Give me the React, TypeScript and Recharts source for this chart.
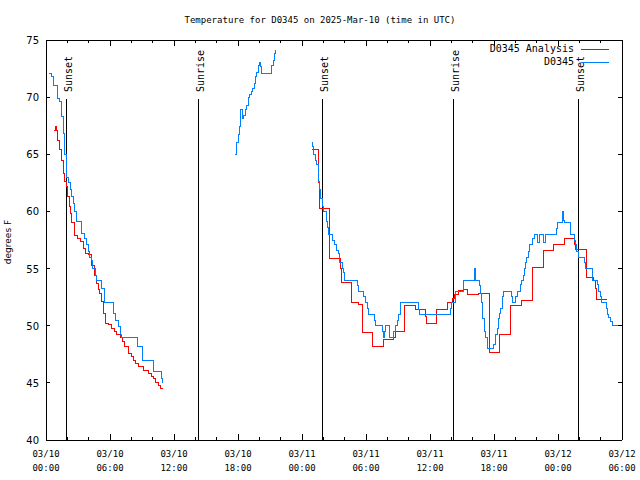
import { LineChart, Line, XAxis, YAxis, ReferenceLine, ReferenceDot, Legend } from "recharts";

const MONO = "'DejaVu Sans Mono', monospace";
const SANS = "'DejaVu Sans', sans-serif";

const CHART_W = 640;
const CHART_H = 480;
const MARGIN = { top: 40, right: 18, bottom: 0, left: 6 };
const X_AXIS_H = 40;
const Y_AXIS_W = 40;
const PLOT_W = CHART_W - MARGIN.left - MARGIN.right - Y_AXIS_W;
const PLOT_H = CHART_H - MARGIN.top - MARGIN.bottom - X_AXIS_H;

// x axis: hours since 03/10 00:00 UTC
const hourTicks = [0, 2, 4, 6, 8, 10, 12, 14, 16, 18, 20, 22, 24, 26, 28, 30, 32, 34, 36, 38, 40, 42, 44, 46, 48, 50, 52, 54];
const majorHours = [0, 6, 12, 18, 24, 30, 36, 42, 48, 54];
const majorDates = ["03/10", "03/10", "03/10", "03/10", "03/11", "03/11", "03/11", "03/11", "03/12", "03/12"];
const majorTimes = ["00:00", "06:00", "12:00", "18:00", "00:00", "06:00", "12:00", "18:00", "00:00", "06:00"];
const tempTicks = [40, 45, 50, 55, 60, 65, 70, 75];

const sunHours = [1.875, 14.28, 25.9, 38.19, 49.9];
const sunLabels = ["Sunset", "Sunrise", "Sunset", "Sunrise", "Sunset"];

// D0345 observations, [hour, degF], one list per unbroken stretch
const stationNight1 = [
  [0.3, 72.1], [0.5, 71.8], [0.7, 71.0], [1.05, 69.9], [1.3, 69.6], [1.45, 68.3], [1.6, 66.8], [1.75, 65.0],
  [1.9, 63.0], [2.1, 62.5], [2.25, 61.9], [2.4, 61.3], [2.55, 60.7], [2.7, 60.0], [2.85, 59.1], [3.35, 58.1],
  [3.65, 57.6], [3.8, 57.1], [4.0, 56.5], [4.1, 56.0], [4.25, 55.7], [4.4, 55.0], [4.6, 54.4], [4.75, 54.0],
  [5.2, 53.3], [5.5, 52.0], [6.35, 51.1], [6.55, 50.5], [6.75, 49.9], [6.95, 49.2], [7.1, 49.0], [8.55, 48.2],
  [9.0, 47.0], [10.1, 46.0], [10.85, 45.4], [10.95, 45.0], [11.0, 45.0],
];
const stationDay1 = [
  [17.7, 65.0], [17.85, 66.0], [18.0, 66.7], [18.1, 67.4], [18.2, 68.15], [18.28, 68.9], [18.4, 68.15],
  [18.55, 68.4], [18.7, 68.9], [18.8, 69.3], [18.95, 70.0], [19.1, 70.2], [19.25, 70.5], [19.4, 70.8],
  [19.5, 71.2], [19.65, 71.8], [19.75, 72.2], [19.9, 72.8], [20.0, 73.05], [20.1, 72.7], [20.2, 72.1],
  [21.15, 72.8], [21.35, 73.25], [21.45, 73.8], [21.5, 74.1], [21.55, 74.1],
];
const stationNight2 = [
  [24.95, 66.0], [25.0, 65.7], [25.06, 65.0], [25.25, 64.5], [25.4, 64.1], [25.5, 63.6], [25.55, 62.6],
  [25.65, 61.9], [25.78, 61.15], [25.9, 60.4], [26.0, 60.0], [26.3, 59.1], [26.37, 58.6], [26.53, 58.0],
  [26.84, 57.5], [27.03, 57.1], [27.25, 56.6], [27.4, 56.3], [27.55, 55.5], [27.75, 55.0], [27.87, 54.7],
  [27.96, 54.0], [29.2, 53.5], [29.3, 53.0], [29.8, 52.55], [29.95, 52.0], [30.15, 51.5], [30.2, 51.0],
  [30.8, 50.5], [30.9, 50.0], [31.5, 49.5], [31.6, 49.0], [31.7, 49.5], [31.84, 50.0], [32.18, 49.0],
  [32.6, 49.5], [32.78, 50.0], [32.93, 50.5], [33.03, 51.0], [33.19, 51.4], [33.28, 52.0], [34.95, 51.4],
  [35.05, 51.0], [37.9, 51.5], [38.0, 52.0], [38.4, 53.0], [39.15, 54.0], [40.2, 55.0], [40.3, 54.0],
  [40.65, 53.5], [40.75, 52.8], [40.85, 52.0], [40.95, 50.6], [41.1, 49.5], [41.2, 49.0], [41.35, 48.0],
  [41.95, 48.4], [42.1, 49.2], [42.3, 49.8], [42.45, 50.6], [42.55, 51.1], [42.65, 51.5], [42.75, 52.0],
  [42.8, 52.55], [42.87, 53.0], [43.6, 52.55], [43.75, 52.0], [44.05, 52.55], [44.19, 53.0], [44.47, 53.6],
  [44.6, 54.0], [44.72, 54.4], [44.84, 55.0], [44.97, 55.5], [45.06, 56.0], [45.2, 56.5], [45.31, 57.1],
  [45.58, 57.6], [45.75, 58.0], [46.05, 57.3], [46.25, 58.0], [46.62, 57.3], [46.8, 58.0], [47.83, 58.5],
  [47.95, 59.0], [48.45, 60.0], [48.53, 59.25], [48.6, 59.0], [49.15, 58.0], [49.52, 57.5], [49.63, 57.1],
  [49.78, 56.5], [49.88, 56.0], [50.5, 55.5], [50.6, 55.0], [51.2, 54.5], [51.28, 54.0], [51.67, 53.6],
  [51.8, 53.0], [51.95, 52.55], [52.05, 52.0], [52.5, 51.5], [52.62, 51.0], [52.75, 50.7], [52.9, 50.4],
  [53.1, 50.0], [54.0, 50.0],
];

// D0345 Analysis
const analysisNight1 = [
  [0.75, 67.1], [0.85, 67.4], [0.95, 67.1], [1.1, 66.25], [1.3, 65.4], [1.45, 64.5], [1.6, 63.3], [1.75, 62.6],
  [1.9, 62.2], [2.05, 61.3], [2.2, 60.4], [2.3, 59.8], [2.41, 59.0], [2.65, 57.9], [2.93, 57.6], [3.19, 57.35],
  [3.5, 56.8], [3.72, 56.3], [4.03, 56.2], [4.28, 55.3], [4.5, 54.4], [4.75, 53.7], [4.95, 53.2], [5.06, 52.8],
  [5.22, 52.1], [5.37, 51.1], [5.6, 50.2], [5.84, 50.1], [6.16, 49.8], [6.4, 49.5], [6.63, 49.2], [6.94, 49.0],
  [7.15, 48.6], [7.4, 48.2], [7.72, 47.6], [8.0, 47.3], [8.18, 47.0], [8.4, 46.7], [8.65, 46.4], [9.12, 46.1],
  [9.59, 45.8], [9.85, 45.6], [10.06, 45.4], [10.3, 45.0], [10.5, 44.8], [10.69, 44.55], [10.97, 44.55],
];
const analysisNight2 = [
  [24.95, 65.4], [25.55, 62.5], [25.65, 60.3], [26.6, 55.9], [27.47, 56.1], [27.55, 55.9], [27.63, 55.0],
  [27.72, 53.8], [28.6, 52.0], [29.25, 51.9], [29.65, 49.4], [30.65, 48.2], [31.6, 48.8], [32.6, 49.0],
  [32.75, 49.5], [33.63, 51.8], [34.63, 51.4], [35.62, 50.8], [35.68, 50.2], [36.62, 51.4], [37.6, 52.0],
  [38.15, 52.4], [38.25, 52.75], [38.66, 53.05], [39.1, 53.15], [39.53, 52.75], [40.55, 52.8], [41.6, 47.7],
  [42.5, 49.25], [43.5, 51.8], [44.6, 52.25], [45.58, 55.1], [46.62, 56.55], [47.6, 57.1], [48.63, 57.6],
  [49.55, 57.1], [49.65, 56.7], [50.65, 54.2], [51.3, 54.0], [51.5, 53.3], [51.6, 52.3], [52.56, 52.3],
];

// join stretches, with a null point between them so the line breaks
function joinSegments(segments: number[][][]) {
  const rows: { h: number; v: number | null }[] = [];
  segments.forEach((seg, i) => {
    if (i > 0) {
      const prev = segments[i - 1];
      rows.push({ h: (prev[prev.length - 1][0] + seg[0][0]) / 2, v: null });
    }
    seg.forEach(([h, v]) => rows.push({ h, v }));
  });
  return rows;
}

const stationData = joinSegments([stationNight1, stationDay1, stationNight2]);
const analysisData = joinSegments([analysisNight1, analysisNight2]);

const legendItems = [
  { name: "D0345 Analysis", color: "#ff0000" },
  { name: "D0345", color: "#0080ff" },
];

// bottom tick + its mirror on the top edge (first tick also draws the top border)
function BottomTick({ x, y, payload, index }: any) {
  const i = majorHours.indexOf(payload.value);
  const len = i >= 0 ? 6 : 3;
  const top = y - PLOT_H;
  return (
    <g shapeRendering="crispEdges">
      {index === 0 && <line x1={x} x2={x + PLOT_W} y1={top} y2={top} stroke="#000" />}
      <line x1={x} x2={x} y1={y} y2={y - len} stroke="#000" />
      <line x1={x} x2={x} y1={top} y2={top + len} stroke="#000" />
      {i >= 0 && (
        <text x={x} y={y + 17} textAnchor="middle" fontFamily={MONO} fontSize={9} fill="#000" shapeRendering="auto">
          <tspan x={x}>{majorDates[i]}</tspan>
          <tspan x={x} dy={14}>{majorTimes[i]}</tspan>
        </text>
      )}
    </g>
  );
}

// left tick + its mirror on the right edge (first tick also draws the right border)
function LeftTick({ x, y, payload, index }: any) {
  const right = x + PLOT_W;
  return (
    <g shapeRendering="crispEdges">
      {index === 0 && <line x1={right} x2={right} y1={y} y2={y - PLOT_H} stroke="#000" />}
      <line x1={x} x2={x + 4} y1={y} y2={y} stroke="#000" />
      <line x1={right} x2={right - 4} y1={y} y2={y} stroke="#000" />
      <text x={x - 7} y={y + 4} textAnchor="end" fontFamily={SANS} fontSize={10} fill="#000" shapeRendering="auto">
        {payload.value}
      </text>
    </g>
  );
}

function SunText({ cx, cy, text }: any) {
  const tx = cx + 5.5;
  return (
    <text x={tx} y={cy} transform={`rotate(-90 ${tx} ${cy})`} textAnchor="start" fontFamily={MONO} fontSize={10} fill="#000">
      {text}
    </text>
  );
}

function LegendBox() {
  return (
    <div style={{ fontFamily: MONO, fontSize: 10, color: "#000" }}>
      {legendItems.map((item) => (
        <div key={item.name} style={{ display: "flex", justifyContent: "flex-end", alignItems: "center", height: 12.6, lineHeight: "12.6px" }}>
          <span>{item.name}</span>
          <svg width={36} height={12} style={{ display: "block" }}>
            <line x1={7} x2={35} y1={6.5} y2={6.5} stroke={item.color} strokeWidth={1} />
          </svg>
        </div>
      ))}
    </div>
  );
}

export default function App() {
  return (
    <div style={{ position: "absolute", left: 0, top: 0, background: "#fff" }}>
      <LineChart width={CHART_W} height={CHART_H} margin={MARGIN}>
        <XAxis
          type="number"
          dataKey="h"
          domain={[0, 54]}
          ticks={hourTicks}
          allowDataOverflow
          height={X_AXIS_H}
          tickSize={0}
          tickMargin={0}
          tickLine={false}
          axisLine={{ stroke: "#000", shapeRendering: "crispEdges" }}
          tick={<BottomTick />}
          interval={0}
        />
        <YAxis
          type="number"
          domain={[40, 75]}
          ticks={tempTicks}
          allowDataOverflow
          width={Y_AXIS_W}
          tickSize={0}
          tickMargin={0}
          tickLine={false}
          axisLine={{ stroke: "#000", shapeRendering: "crispEdges" }}
          tick={<LeftTick />}
          interval={0}
          label={() => (
            <g>
              <text x={CHART_W / 2} y={23} textAnchor="middle" fontFamily={MONO} fontSize={9} fill="#000">
                Temperature for D0345 on 2025-Mar-10 (time in UTC)
              </text>
              <text x={11} y={242} transform="rotate(-90 11 242)" textAnchor="middle" fontFamily={SANS} fontSize={9} fill="#000">
                degrees F
              </text>
            </g>
          )}
        />
        {sunHours.map((h, i) => (
          <ReferenceLine
            key={"sun" + i}
            segment={[{ x: h, y: 40 }, { x: h, y: 69.85 }]}
            stroke="#000"
            strokeWidth={1}
            shapeRendering="crispEdges"
            ifOverflow="visible"
          />
        ))}
        {sunHours.map((h, i) => (
          <ReferenceDot
            key={"sunlabel" + i}
            x={h}
            y={70.45}
            r={1}
            ifOverflow="visible"
            shape={(p: any) => <SunText cx={p.cx} cy={p.cy} text={sunLabels[i]} />}
          />
        ))}
        <Line
          data={analysisData}
          dataKey="v"
          name="D0345 Analysis"
          type="stepAfter"
          stroke="#ff0000"
          strokeWidth={1}
          dot={false}
          activeDot={false}
          connectNulls={false}
          isAnimationActive={false}
          shapeRendering="crispEdges"
        />
        <Line
          data={stationData}
          dataKey="v"
          name="D0345"
          type="stepAfter"
          stroke="#0080ff"
          strokeWidth={1}
          dot={false}
          activeDot={false}
          connectNulls={false}
          isAnimationActive={false}
          shapeRendering="crispEdges"
        />
        <Legend
          layout="vertical"
          align="center"
          verticalAlign="middle"
          wrapperStyle={{ top: 43, left: 435, width: 175 }}
          content={() => <LegendBox />}
        />
      </LineChart>
    </div>
  );
}
